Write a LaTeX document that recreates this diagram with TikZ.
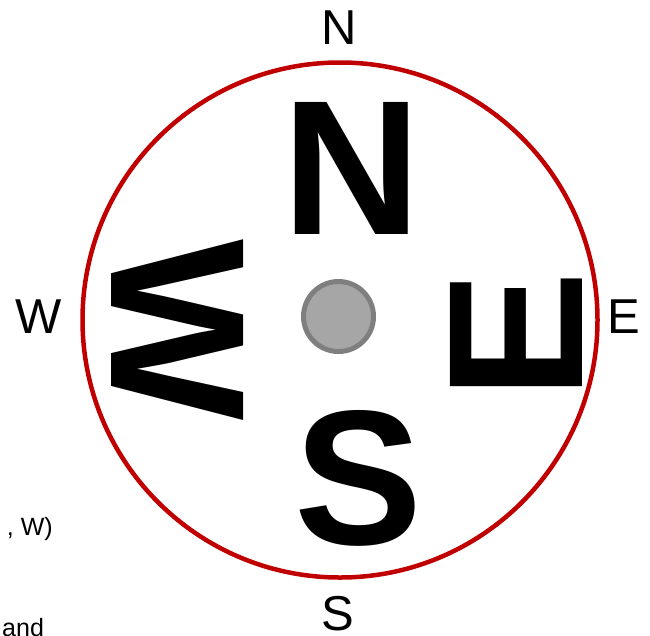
\documentclass[tikz,border=0pt]{standalone}
\usepackage{fontspec}
\setmainfont{Liberation Sans}
\usepackage{xcolor}
\definecolor{rimred}{HTML}{C00000}
\definecolor{hubfill}{HTML}{A6A6A6}
\definecolor{hubedge}{HTML}{7F7F7F}
\usepackage{tikz}

\begin{document}
\begin{tikzpicture}[
  x=1pt, y=-1pt,
  every node/.style={inner sep=0pt, text=black},
  bigletter/.style={font=\fontsize{192}{192}\selectfont\bfseries},
  smalllabel/.style={font=\fontsize{49}{49}\selectfont},
  cuttext/.style={font=\fontsize{25}{25}\selectfont},
  rim/.style={draw=rimred, line width=4.5pt},
  hub/.style={circle, draw=hubedge, fill=hubfill, line width=5pt,
              minimum size=70pt},
]
  \useasboundingbox (0,0) rectangle (650,635);

  % compass ring and hub
  \draw[rim] (340,320) circle[radius=257.5];
  \node[hub] (hub) at (338.5,316.5) {};

  % big letters on the face
  \node[bigletter] (bigN) at (352,168.5) {N};
  \node[bigletter] (bigS) at (358.5,478.5) {S};
  \node[bigletter, rotate=-90] (bigW) at (178,330) {W};
  \node[bigletter, rotate=90] (bigE) at (516.5,335.5) {E};

  % small labels round the ring
  \node[smalllabel] (labN) at (339,27.5) {N};
  \node[smalllabel] (labS) at (338,614) {S};
  \node[smalllabel] (labW) at (38.5,316.5) {W};
  \node[smalllabel] (labE) at (624,316.5) {E};

  % text cut off at the left edge
  \node[cuttext, anchor=base east] (cutW) at (53,535) {, W)};
  \node[cuttext, anchor=base west] (cutand) at (2,636) {and};
\end{tikzpicture}
\end{document}
